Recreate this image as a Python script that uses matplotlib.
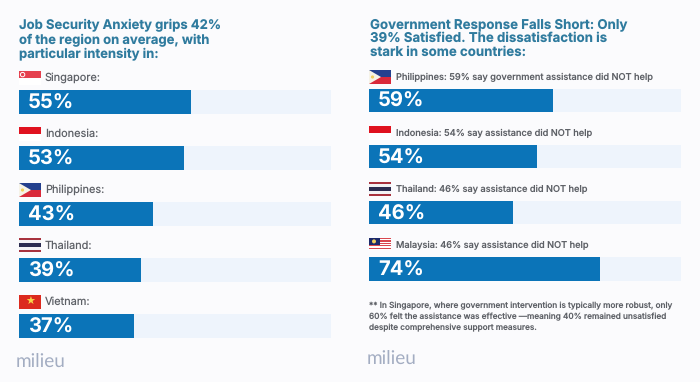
import matplotlib
matplotlib.use("Agg")
import matplotlib.pyplot as plt
from matplotlib.patches import Rectangle, Polygon, Circle

plt.rcParams['font.family'] = ['Inter', 'DejaVu Sans']
plt.rcParams['text.hinting'] = 'no_hinting'
plt.rcParams['text.hinting_factor'] = 1

left_title = "Job Security Anxiety grips 42%\nof the region on average, with\nparticular intensity in:"
left_labels = ["Singapore:", "Indonesia:", "Philippines:", "Thailand:", "Vietnam:"]
left_codes = ["sg", "id", "ph", "th", "vn"]
left_values = [55, 53, 43, 39, 37]

right_title = "Government Response Falls Short: Only\n39% Satisfied. The dissatisfaction is\nstark in some countries:"
right_labels = ["Philippines: 59% say government assistance did NOT help",
                "Indonesia: 54% say assistance did NOT help",
                "Thailand: 46% say assistance did NOT help",
                "Malaysia: 46% say assistance did NOT help"]
right_codes = ["ph", "id", "th", "my"]
right_values = [59, 54, 46, 74]

footnote = ("** In Singapore, where government intervention is typically more robust, only\n"
            "60% felt the assistance was effective \u2014meaning 40% remained unsatisfied\n"
            "despite comprehensive support measures.")
brand = "milieu"

BG = "#fbfbfd"
TRACK = "#eef4fc"
BAR = "#0b74b8"
TITLE = "#2f7b9e"
LABEL = "#5e6167"
BRAND = "#a3adc2"
W, H = 700, 382

fig = plt.figure(figsize=(7, 3.82), dpi=100, facecolor=BG)


def panel_axes(x0, x1, y_top, y_bot):
    ax = fig.add_axes([x0 / W, 1 - y_bot / H, (x1 - x0) / W, (y_bot - y_top) / H])
    ax.axis("off")
    return ax


def draw_bars(ax, values, pitch, bar_h):
    ys = [i * pitch for i in range(len(values))]
    ax.barh(ys, [100] * len(values), height=bar_h, color=TRACK, linewidth=0)
    ax.barh(ys, values, height=bar_h, color=BAR, linewidth=0)
    ax.set_xlim(0, 100)
    ax.set_ylim(ys[-1] + bar_h / 2, -bar_h / 2)
    for y, v in zip(ys, values):
        ax.text(2.9, y + 1.6, f"{v}%", color="white", fontsize=14.5, fontweight="bold",
                va="center", ha="left", family="Inter")


axl = panel_axes(19, 331, 90, 337.5)
draw_bars(axl, left_values, 56.0, 23.5)
axr = panel_axes(369, 681, 88.5, 280.5)
draw_bars(axr, right_values, 56.2, 23.5)

ov = fig.add_axes([0, 0, 1, 1], zorder=5)
ov.set_xlim(0, W)
ov.set_ylim(H, 0)
ov.axis("off")


def rect(x, y, w, h, c):
    ov.add_patch(Rectangle((x, y), w, h, facecolor=c, edgecolor="none"))


def flag(code, x, y, w=22, h=14):
    rect(x, y, w, h, "white")
    if code == "sg":
        rect(x, y, w, h / 2, "#e5404e")
        ov.add_patch(Circle((x + 3.6, y + 3.6), 2.2, fill=False, edgecolor="white", linewidth=0.7))
    elif code == "id":
        rect(x, y, w, h / 2, "#e0121f")
    elif code == "ph":
        rect(x, y, w, h / 2, "#24408e")
        rect(x, y + h / 2, w, h / 2, "#d9293a")
        ov.add_patch(Polygon([(x, y), (x + 12, y + h / 2), (x, y + h)], facecolor="#f6f3e8", edgecolor="none"))
        ov.add_patch(Circle((x + 3.5, y + h / 2), 1.6, facecolor="#f0cf60", edgecolor="none"))
    elif code == "th":
        rect(x, y, w, h, "#f3f3f5")
        rect(x, y, w, h / 6, "#a8323e")
        rect(x, y + h * 5 / 6, w, h / 6, "#a8323e")
        rect(x, y + h / 3, w, h / 3, "#2b2c50")
    elif code == "vn":
        rect(x, y, w, h, "#dc2a1e")
        ov.text(x + w / 2, y + h / 2 + 0.3, "\u2605", color="#f8d84a", fontsize=8, ha="center", va="center",
                family="DejaVu Sans")
    elif code == "my":
        for i in range(7):
            rect(x, y + i * h / 7, w, h / 14, "#d9474f")
        rect(x, y, w / 2, h * 4 / 7, "#1c2a6b")
        ov.add_patch(Circle((x + 5, y + 3.4), 2.0, facecolor="#f0cf60", edgecolor="none"))


ov.text(19, 40, left_title, color=TITLE, fontsize=9.4, fontweight="bold", va="center", ha="left", linespacing=1.16)
ov.text(369.5, 38.5, right_title, color=TITLE, fontsize=9.55, fontweight="bold", va="center", ha="left", linespacing=1.14)

for i, (lab, code) in enumerate(zip(left_labels, left_codes)):
    flag(code, 19, 71 + i * 56 - (0 if code != "th" else 1), 22, 14)
    ov.text(45, 78 + i * 56, lab, color=LABEL, fontsize=7.9, va="center", ha="left")

for i, (lab, code) in enumerate(zip(right_labels, right_codes)):
    flag(code, 369, 70 + i * 56, 22, 14 if code != "my" else 12)
    ov.text(395.5, 77 + i * 56, lab, color=LABEL, fontsize=6.63, va="center", ha="left", fontweight="medium")

ov.text(369, 317, footnote, color=LABEL, fontsize=5.92, va="center", ha="left", linespacing=1.4, fontweight="medium")

ov.text(16, 361, brand, color=BRAND, fontsize=13.6, va="center", ha="left", family="Lato")
ov.text(367, 358, brand, color=BRAND, fontsize=13.6, va="center", ha="left", family="Lato")

fig.savefig("out.png", dpi=100, facecolor=BG)
